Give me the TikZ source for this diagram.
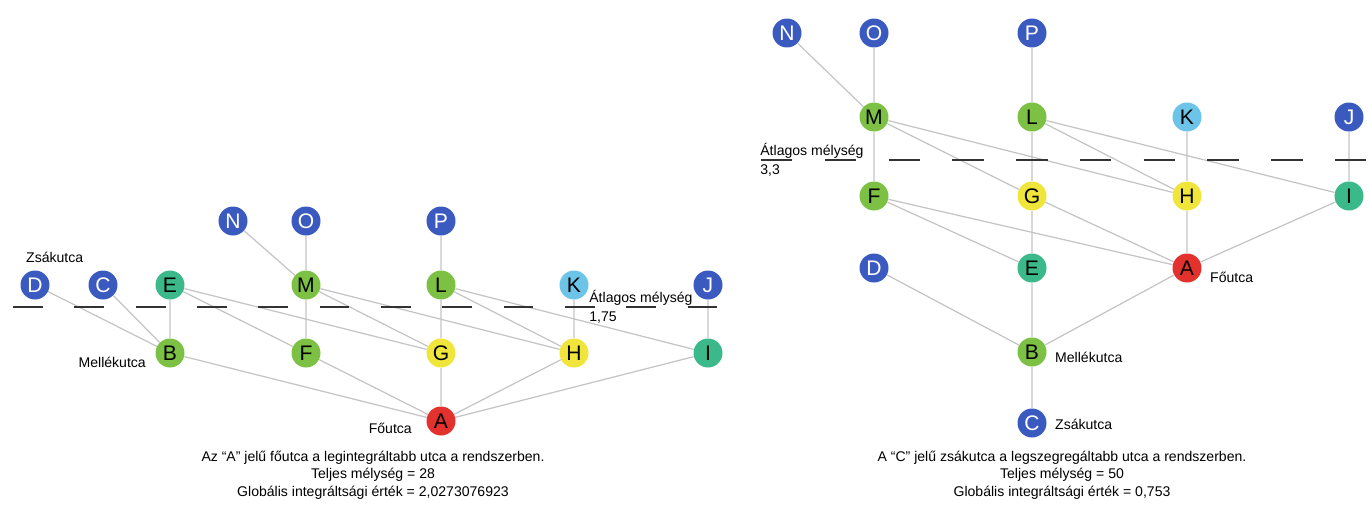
\documentclass[tikz,border=0pt]{standalone}
\usepackage{fontspec}
\setsansfont{Liberation Sans}
\usepackage{tikz}
\usetikzlibrary{positioning}
\definecolor{Blue}{HTML}{3A5AC0}
\definecolor{Green}{HTML}{7CC143}
\definecolor{Teal}{HTML}{3CB98A}
\definecolor{Yellow}{HTML}{F0E53B}
\definecolor{Red}{HTML}{E3312E}
\definecolor{Sky}{HTML}{6CC4E8}
\definecolor{Edge}{HTML}{C4C4C4}

\begin{document}
\begin{tikzpicture}[x=0.02cm,y=-0.02cm,font=\sffamily\fontsize{8}{10}\selectfont,
  street/.style={circle,minimum size=0.58cm,inner sep=0pt,font=\sffamily\fontsize{12}{12}\selectfont},
  deadend/.style={street,fill=Blue,text=white},
  link/.style={draw=Edge,line width=0.7pt},
  depthline/.style={draw=black!80,line width=0.7pt}]
  \useasboundingbox (0,0) rectangle (1368,504);

  % left: A is the main street
  \node[deadend] (lD) at (35,285) {D};
  \node[deadend] (lC) at (103,285) {C};
  \node[street,fill=Teal] (lE) at (170,285) {E};
  \node[deadend] (lN) at (233,221) {N};
  \node[deadend] (lO) at (306,221) {O};
  \node[street,fill=Green] (lM) at (306,285) {M};
  \node[deadend] (lP) at (441,221) {P};
  \node[street,fill=Green] (lL) at (441,285) {L};
  \node[street,fill=Sky] (lK) at (574,285) {K};
  \node[deadend] (lJ) at (708,285) {J};
  \node[street,fill=Green] (lB) at (170,353) {B};
  \node[street,fill=Green] (lF) at (306,353) {F};
  \node[street,fill=Yellow] (lG) at (441,353) {G};
  \node[street,fill=Yellow] (lH) at (574,353) {H};
  \node[street,fill=Teal] (lI) at (708,353) {I};
  \node[street,fill=Red] (lA) at (441,421) {A};
  \draw[link] (lD) -- (lB) (lC) -- (lB) (lE) -- (lB) (lE) -- (lF) (lE) -- (lG)
    (lN) -- (lM) (lO) -- (lM) (lM) -- (lF) (lM) -- (lG) (lM) -- (lH)
    (lP) -- (lL) (lL) -- (lG) (lL) -- (lH) (lL) -- (lI) (lK) -- (lH) (lJ) -- (lI)
    (lB) -- (lA) (lF) -- (lA) (lG) -- (lA) (lH) -- (lA) (lI) -- (lA);
  \coordinate (lavg0) at (13,307);
  \coordinate (lavg1) at (722,307);
  \draw[depthline,dash pattern=on 17pt off 17.9pt] (lavg0) -- (lavg1);
  \node[anchor=west] (lzsak) at (20,257) {Zsákutca};
  \node[anchor=east] (lmell) at (152,362) {Mellékutca};
  \node[anchor=east] (lfo) at (418,428) {Főutca};
  \node[anchor=north west,align=left,inner sep=0pt,font=\sffamily\fontsize{8}{11}\selectfont] (lavg) at (589,290) {Átlagos mélység\\1,75};
  \node[align=center] (lcap) at (373,475) {Az “A” jelű főutca a legintegráltabb utca a rendszerben.\\Teljes mélység = 28\\Globális integráltsági érték = 2,0273076923};

  % right: C is the dead end
  \node[deadend] (rN) at (787,33) {N};
  \node[deadend] (rO) at (874,33) {O};
  \node[deadend] (rP) at (1032,33) {P};
  \node[street,fill=Green] (rM) at (874,117) {M};
  \node[street,fill=Green] (rL) at (1032,117) {L};
  \node[street,fill=Sky] (rK) at (1187,117) {K};
  \node[deadend] (rJ) at (1349,117) {J};
  \node[street,fill=Green] (rF) at (874,196) {F};
  \node[street,fill=Yellow] (rG) at (1032,196) {G};
  \node[street,fill=Yellow] (rH) at (1187,196) {H};
  \node[street,fill=Teal] (rI) at (1349,196) {I};
  \node[deadend] (rD) at (874,268) {D};
  \node[street,fill=Teal] (rE) at (1032,268) {E};
  \node[street,fill=Red] (rA) at (1187,268) {A};
  \node[street,fill=Green] (rB) at (1032,352) {B};
  \node[deadend] (rC) at (1032,423) {C};
  \draw[link] (rN) -- (rM) (rO) -- (rM) (rP) -- (rL) (rM) -- (rF) (rM) -- (rG) (rM) -- (rH)
    (rL) -- (rG) (rL) -- (rH) (rL) -- (rI) (rK) -- (rH) (rJ) -- (rI)
    (rF) -- (rE) (rF) -- (rA) (rG) -- (rE) (rG) -- (rA) (rH) -- (rA) (rI) -- (rA)
    (rD) -- (rB) (rE) -- (rB) (rA) -- (rB) (rB) -- (rC);
  \coordinate (ravg0) at (761,160);
  \coordinate (ravg1) at (1368,160);
  \draw[depthline,dash pattern=on 17.9pt off 18.4pt] (ravg0) -- (ravg1);
  \node[anchor=north west,align=left,inner sep=0pt,font=\sffamily\fontsize{8}{11}\selectfont] (ravg) at (760,143) {Átlagos mélység\\3,3};
  \node[anchor=west] (rfo) at (1204,277) {Főutca};
  \node[anchor=west] (rmell) at (1049,357) {Mellékutca};
  \node[anchor=west] (rzsak) at (1049,424) {Zsákutca};
  \node[align=center] (rcap) at (1062,475) {A “C” jelű zsákutca a legszegregáltabb utca a rendszerben.\\Teljes mélység = 50\\Globális integráltsági érték = 0,753};
\end{tikzpicture}
\end{document}
